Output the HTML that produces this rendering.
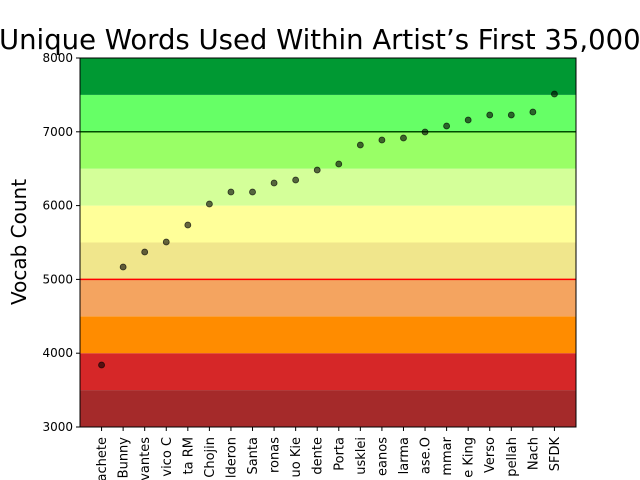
<!DOCTYPE html>
<html><head><meta charset="utf-8"><style>body{margin:0;background:#fff;overflow:hidden}svg{display:block;font-family:"DejaVu Sans","Liberation Sans",sans-serif}</style></head>
<body>
<svg id="c" width="640" height="480"></svg>
<script>
const artists=["achete","Bunny","vantes","vico C","ta RM","Chojin","lderon","Santa","ronas","uo Kie","dente","Porta","usklei","eanos","larma","ase.O","mmar","e King","Verso","pellah","Nach","SFDK"];
const vocab=[3840,5168,5371,5507,5737,6022,6184,6184,6306,6347,6482,6564,6821,6889,6916,6997,7079,7160,7228,7228,7268,7512];
const yTicks=[3000,4000,5000,6000,7000,8000];
const bandLows=[3000,3500,4000,4500,5000,5500,6000,6500,7000,7500];
const bandColors=["#a52a2a","#d62728","#ff8c00","#f4a460","#f0e68c","#ffff99","#d4ff99","#99ff66","#66ff66","#009933"];
const NS="http://www.w3.org/2000/svg",svg=document.getElementById('c');
const L=80,R=576,T=58,B=427;
const x=i=>L+(i+1)*(R-L)/(artists.length+1);
const y=v=>B-(v-3000)/5000*(B-T);
function mk(t,a,p){const e=document.createElementNS(NS,t);for(const k in a)e.setAttribute(k,a[k]);(p||svg).appendChild(e);return e;}
bandLows.forEach((lo,i)=>{const r=mk('rect',{x:L,y:y(lo+500),width:R-L,height:y(lo)-y(lo+500),fill:bandColors[i]});

});
const l1=mk('line',{x1:L,x2:R,y1:y(5000),y2:y(5000),stroke:'#ff0000','stroke-width':1.5});


const l2=mk('line',{x1:L,x2:R,y1:y(7000),y2:y(7000),stroke:'#004d00','stroke-width':1.5});


vocab.forEach((v,i)=>{const c=mk('circle',{cx:x(i),cy:y(v),r:3,fill:'#000','fill-opacity':0.6,stroke:'#000','stroke-opacity':0.7,'stroke-width':0.8});

});
const fr=mk('rect',{x:L,y:T,width:R-L,height:B-T,fill:'none',stroke:'#000','stroke-width':1});


yTicks.forEach(v=>{mk('line',{x1:L-4,x2:L,y1:y(v),y2:y(v),stroke:'#000'});
const t=mk('text',{x:L-7,y:y(v)+4,'text-anchor':'end','font-size':12});t.textContent=v;

});
artists.forEach((a,i)=>{mk('line',{x1:x(i),x2:x(i),y1:B,y2:B+4,stroke:'#000'});
const t=mk('text',{transform:`translate(${x(i)+4.5},${B+10}) rotate(-90)`,'text-anchor':'end','font-size':13});t.textContent=a;

});
const yl=mk('text',{transform:'translate(26,242) rotate(-90)','text-anchor':'middle','font-size':20});yl.textContent='Vocab Count';


const ti=mk('text',{x:-1,y:49,'text-anchor':'start','font-size':27.5});ti.textContent='Unique Words Used Within Artist’s First 35,000 Words';


</script>
</body></html>
